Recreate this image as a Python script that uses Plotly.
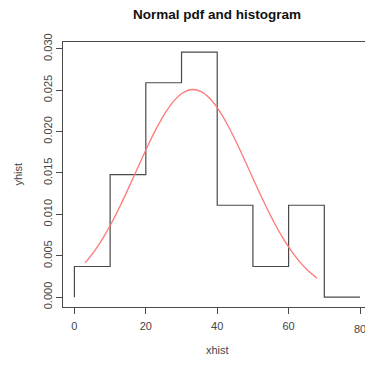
import plotly.graph_objects as go

# Histogram (density)
breaks = [0, 10, 20, 30, 40, 50, 60, 70, 80]
density = [0.0037, 0.0148, 0.0259, 0.0296, 0.0111, 0.0037, 0.0111, 0.0]

# Normal pdf curve
curve_x = [3, 5.5, 8, 10.5, 13, 15.5, 18, 20.5, 23, 25.5, 28, 30.5, 33, 35.5,
           38, 40.5, 43, 45.5, 48, 50.5, 53, 55.5, 58, 60.5, 63, 65.5, 68]
curve_y = [0.00413, 0.00550, 0.00714, 0.00905, 0.01119, 0.01350, 0.01588,
           0.01823, 0.02042, 0.02230, 0.02377, 0.02472, 0.02508, 0.02482,
           0.02396, 0.02257, 0.02074, 0.01859, 0.01626, 0.01387, 0.01155,
           0.00938, 0.00743, 0.00574, 0.00433, 0.00319, 0.00229]

x_ticks = [0, 20, 40, 60, 80]
y_ticks = [0.000, 0.005, 0.010, 0.015, 0.020, 0.025, 0.030]

title_text = "Normal pdf and histogram"
x_title = "xhist"
y_title = "yhist"

step_x = [breaks[0]] + breaks
step_y = [0.0] + density + [density[-1]]

axis_col = "#4a4a4a"
font_fam = "Liberation Sans, Arial, sans-serif"

fig = go.Figure()
fig.add_trace(go.Scatter(x=step_x, y=step_y, mode="lines",
                         line=dict(color="#4a4a4a", width=1.2, shape="hv"),
                         hoverinfo="skip", showlegend=False, cliponaxis=False))
fig.add_trace(go.Scatter(x=curve_x, y=curve_y, mode="lines",
                         line=dict(color="#ff7878", width=1.3, shape="spline"),
                         hoverinfo="skip", showlegend=False))

plot_h = 365 - 42 - 58

fig.update_layout(
    width=365, height=365,
    margin=dict(l=63, r=0, t=42, b=58),
    paper_bgcolor="white", plot_bgcolor="white",
    font=dict(family=font_fam, size=11, color="#444"),
    showlegend=False,
    xaxis=dict(range=[-3.2, 81.4], tickvals=x_ticks,
               ticktext=[str(v) if v != 80 else " " for v in x_ticks],
               ticklabelstandoff=3,
               showgrid=False, zeroline=False, showline=True, mirror=True,
               linecolor=axis_col, linewidth=1, ticks="outside", ticklen=6,
               tickcolor=axis_col, tickwidth=1, tickfont=dict(size=11, color="#444")),
    yaxis=dict(range=[-0.00119, 0.03082], tickvals=y_ticks,
               ticktext=["%.3f" % v for v in y_ticks], tickangle=-90,
               showgrid=False, zeroline=False, showline=True, mirror=False,
               linecolor=axis_col, linewidth=1, ticks="outside", ticklen=6,
               tickcolor=axis_col, tickwidth=1, tickfont=dict(size=11, color="#444")),
    annotations=[
        dict(text="<b>" + title_text + "</b>", x=40, xref="x",
             y=1 + (42 - 14) / plot_h, yref="paper",
             yanchor="middle", showarrow=False, font=dict(size=13.5, color="#111")),
        dict(text=x_title, x=40, xref="x", y=0, yref="paper", yshift=-43,
             yanchor="middle", showarrow=False, font=dict(size=11, color="#444")),
        dict(text=y_title, x=0, xref="paper", xshift=-46, y=0.5, yref="paper",
             textangle=-90, xanchor="center", showarrow=False,
             font=dict(size=11, color="#444")),
        dict(text=str(x_ticks[-1]), x=x_ticks[-1], xref="x", y=0, yref="paper",
             yshift=-21.5, yanchor="middle", xanchor="center", showarrow=False,
             font=dict(size=11, color="#444")),
    ],
)

fig.write_html("out.html")
